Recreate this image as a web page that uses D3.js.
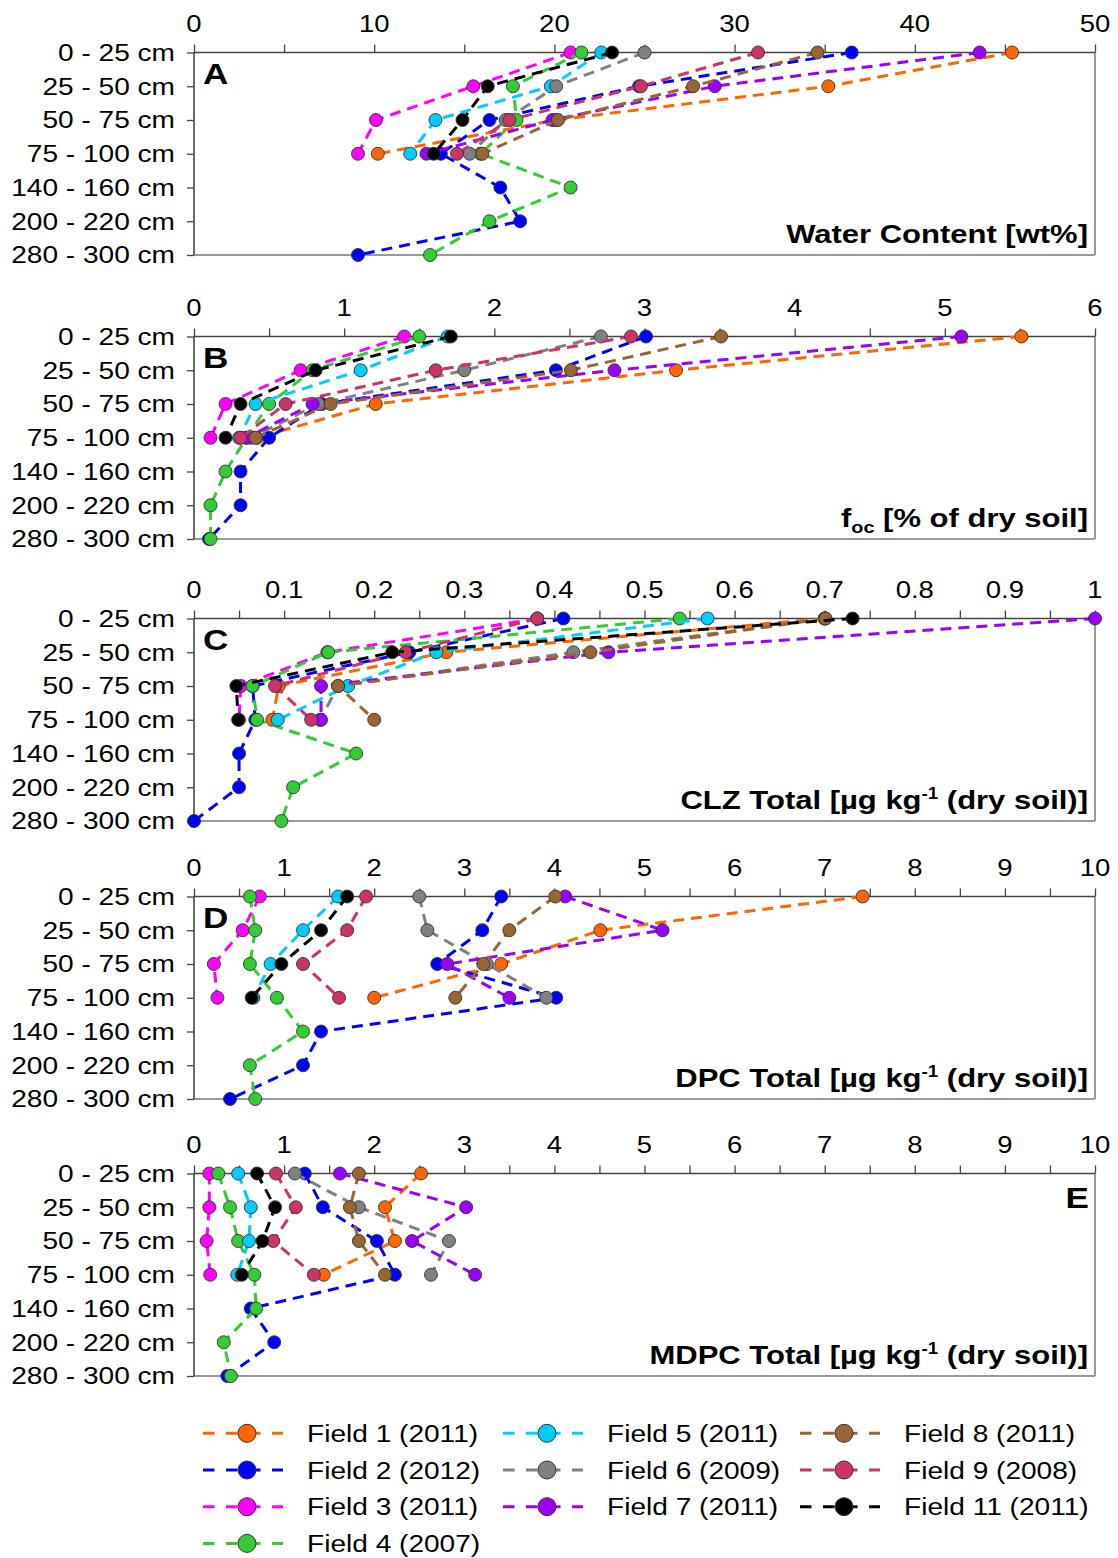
<!DOCTYPE html>
<html>
<head>
<meta charset="utf-8">
<script src="https://cdn.jsdelivr.net/npm/d3@7"></script>
<style>
  body { margin: 0; background: #fff; }
  text { font-family: "Liberation Sans", Arial, sans-serif; fill: #000; }
</style>
</head>
<body>
<svg id="chart" width="1118" height="1558"></svg>
<script>
// Sampling depths (rows of every panel)
const depths = ["0 - 25 cm", "25 - 50 cm", "50 - 75 cm", "75 - 100 cm",
                "140 - 160 cm", "200 - 220 cm", "280 - 300 cm"];

// Fields, in drawing order
const fields = ["Field 1 (2011)", "Field 2 (2012)", "Field 3 (2011)", "Field 4 (2007)",
                "Field 5 (2011)", "Field 6 (2009)", "Field 7 (2011)", "Field 8 (2011)",
                "Field 9 (2008)", "Field 11 (2011)"];
const fieldColors = ["#ff6600", "#0000ff", "#ff00ff", "#33cc33", "#00ccff",
                     "#808080", "#9900ff", "#996633", "#cc3366", "#000000"];

// A: water content [wt%], one row per field, values by depth
const waterContent = [
  [45.4, 35.2, 20.1, 10.2],
  [36.5, 24.7, 16.4, 13.7, 17.0, 18.1, 9.1],
  [20.9, 15.5, 10.1, 9.1],
  [21.5, 17.7, 17.9, 15.9, 20.9, 16.4, 13.1],
  [22.6, 19.8, 13.4, 12.0],
  [25.0, 20.1, 17.3, 15.3],
  [43.6, 28.9, 19.9, 12.9],
  [34.6, 27.7, 20.2, 16.0],
  [31.3, 24.8, 17.5, 14.6],
  [23.2, 16.3, 14.9, 13.3]
];

// B: organic carbon fraction [% of dry soil]
const organicCarbon = [
  [5.51, 3.21, 1.21, 0.42],
  [3.01, 2.41, 0.85, 0.50, 0.31, 0.31, 0.10],
  [1.40, 0.71, 0.21, 0.11],
  [1.50, 0.79, 0.50, 0.35, 0.21, 0.11, 0.11],
  [1.69, 1.11, 0.41, 0.30],
  [2.71, 1.80, 0.83, 0.38],
  [5.11, 2.80, 0.79, 0.35],
  [3.51, 2.51, 0.91, 0.41],
  [2.91, 1.61, 0.61, 0.31],
  [1.71, 0.81, 0.31, 0.21]
];

// C: chloridazon total [µg/kg dry soil]
const clzTotal = [
  [0.700, 0.280, 0.094, 0.087],
  [0.410, 0.239, 0.065, 0.068, 0.050, 0.050, 0.000],
  [0.381, 0.148, 0.052, 0.050],
  [0.539, 0.149, 0.065, 0.070, 0.180, 0.110, 0.097],
  [0.570, 0.269, 0.171, 0.093],
  [0.700, 0.421, 0.160, 0.140],
  [1.000, 0.460, 0.141, 0.141],
  [0.701, 0.440, 0.160, 0.200],
  [0.381, 0.235, 0.090, 0.130],
  [0.731, 0.220, 0.047, 0.049]
];

// D: desphenyl-chloridazon total [µg/kg dry soil]
const dpcTotal = [
  [7.42, 4.51, 3.41, 2.00],
  [3.41, 3.20, 2.70, 4.02, 1.41, 1.21, 0.40],
  [0.73, 0.54, 0.22, 0.26],
  [0.62, 0.68, 0.62, 0.92, 1.21, 0.62, 0.68],
  [1.60, 1.21, 0.85, 0.66],
  [2.50, 2.59, 3.25, 3.91],
  [4.12, 5.20, 2.81, 3.50],
  [4.01, 3.50, 3.21, 2.90],
  [1.91, 1.70, 1.21, 1.61],
  [1.70, 1.41, 0.97, 0.64]
];

// E: methyl-desphenyl-chloridazon total [µg/kg dry soil]
const mdpcTotal = [
  [2.52, 2.12, 2.23, 1.44],
  [1.23, 1.43, 2.03, 2.23, 0.63, 0.89, 0.37],
  [0.17, 0.17, 0.14, 0.18],
  [0.27, 0.40, 0.49, 0.67, 0.69, 0.33, 0.41],
  [0.49, 0.63, 0.61, 0.48],
  [1.12, 1.83, 2.83, 2.63],
  [1.62, 3.02, 2.42, 3.12],
  [1.83, 1.73, 1.83, 2.12],
  [0.91, 1.13, 0.88, 1.33],
  [0.70, 0.90, 0.76, 0.53]
];

// Axis tick labels for each panel
const waterTicks = [0, 10, 20, 30, 40, 50];
const carbonTicks = [0, 1, 2, 3, 4, 5, 6];
const clzTicks = [0, 0.1, 0.2, 0.3, 0.4, 0.5, 0.6, 0.7, 0.8, 0.9, 1];
const dpcTicks = [0, 1, 2, 3, 4, 5, 6, 7, 8, 9, 10];
const mdpcTicks = [0, 1, 2, 3, 4, 5, 6, 7, 8, 9, 10];

// ---- layout ----
const svg = d3.select("#chart");
svg.append("rect").attr("width", 1118).attr("height", 1558).attr("fill", "#fff");

const X0 = 194, X1 = 1095, PANEL_H = 202.5;
const TEXT_SX = 1.17;   // glyphs are drawn slightly wide

function label(parent, x, y, anchor, size, weight) {
  const g = parent.append("g").attr("transform", `translate(${x},${y}) scale(${TEXT_SX},1)`);
  return g.append("text")
    .attr("text-anchor", anchor)
    .style("font-size", size + "px")
    .style("font-weight", weight || "normal");
}

const panels = [
  { top: 52.5,  data: waterContent,  max: 50, minor: 5,    ticks: waterTicks,  letter: "A", letterRight: false,
    title: [{ t: "Water Content [wt%]" }] },
  { top: 336.5, data: organicCarbon, max: 6,  minor: 0.5,  ticks: carbonTicks, letter: "B", letterRight: false,
    title: [{ t: "f" }, { t: "oc", sub: true }, { t: " [% of dry soil]" }] },
  { top: 618.5, data: clzTotal,      max: 1,  minor: 0.05, ticks: clzTicks,    letter: "C", letterRight: false,
    title: [{ t: "CLZ Total [µg kg" }, { t: "-1", sup: true }, { t: " (dry soil)]" }] },
  { top: 896.5, data: dpcTotal,      max: 10, minor: 0.5,  ticks: dpcTicks,    letter: "D", letterRight: false,
    title: [{ t: "DPC Total [µg kg" }, { t: "-1", sup: true }, { t: " (dry soil)]" }] },
  { top: 1173.5, data: mdpcTotal,    max: 10, minor: 0.5,  ticks: mdpcTicks,   letter: "E", letterRight: true,
    title: [{ t: "MDPC Total [µg kg" }, { t: "-1", sup: true }, { t: " (dry soil)]" }] }
];

panels.forEach(p => {
  const g = svg.append("g");
  const top = p.top, bottom = p.top + PANEL_H;
  const x = d3.scaleLinear().domain([0, p.max]).range([X0, X1]);
  const y = d3.scalePoint().domain(depths).range([top, bottom]).padding(0);

  // frame: light right/bottom border
  g.append("line").attr("x1", X1).attr("x2", X1).attr("y1", top).attr("y2", bottom)
    .attr("stroke", "#999").attr("stroke-width", 2);
  g.append("line").attr("x1", X0).attr("x2", X1).attr("y1", bottom).attr("y2", bottom)
    .attr("stroke", "#999").attr("stroke-width", 2);

  // top axis: minor ticks every step, labels on the listed values
  const nMinor = Math.round(p.max / p.minor);
  const minorVals = d3.range(nMinor + 1).map(i => +(i * p.minor).toFixed(4));
  const topAxis = d3.axisTop(x).tickValues(minorVals).tickSize(8).tickFormat("");
  const ta = g.append("g").attr("transform", `translate(0,${top})`).call(topAxis);
  ta.select(".domain").attr("stroke", "#444").attr("stroke-width", 1.6).attr("d", `M${X0},0H${X1}`);
  ta.selectAll(".tick line").attr("stroke", "#444").attr("stroke-width", 1.3);

  p.ticks.forEach(v => {
    label(g, x(v), top - 20.5, "middle", 23.5).text(String(v));
  });

  // left axis with depth labels
  const leftAxis = d3.axisLeft(y).tickSize(7).tickFormat("");
  const la = g.append("g").attr("transform", `translate(${X0},0)`).call(leftAxis);
  la.select(".domain").attr("stroke", "#444").attr("stroke-width", 1.6).attr("d", `M0,${top}V${bottom}`);
  la.selectAll(".tick line").attr("stroke", "#444").attr("stroke-width", 1.3);
  depths.forEach(d => {
    label(g, 175, y(d) + 8.4, "end", 24).text(d);
  });

  // panel letter
  if (p.letterRight) {
    label(g, 1089, top + 34.5, "end", 30, "bold").text(p.letter);
  } else {
    label(g, 203, top + 31, "start", 30, "bold").text(p.letter);
  }

  // panel title with sub/superscripts
  const tt = label(g, 1088, bottom - 12.5, "end", 26.5, "bold");
  p.title.forEach(part => {
    const ts = tt.append("tspan").text(part.t);
    if (part.sub) ts.style("font-size", "17px").attr("dy", 6);
    else if (part.sup) ts.style("font-size", "16px").attr("dy", -10);
  });
  // restore the baseline after a shifted part
  tt.selectAll("tspan").each(function (d, i) {
    const prev = p.title[i - 1];
    if (i > 0 && prev && (prev.sub || prev.sup) && !(p.title[i].sub || p.title[i].sup)) {
      d3.select(this).attr("dy", prev.sub ? -6 : 10);
    }
  });

  // profiles
  const line = d3.line().x(d => x(d.v)).y(d => y(d.depth));
  p.data.forEach((vals, fi) => {
    const pts = vals.map((v, i) => ({ v, depth: depths[i] }));
    const sg = g.append("g");
    sg.append("path").datum(pts)
      .attr("d", line)
      .attr("fill", "none")
      .attr("stroke", fieldColors[fi])
      .attr("stroke-width", 3)
      .attr("stroke-dasharray", "11,7");
    sg.selectAll("circle").data(pts).join("circle")
      .attr("cx", d => x(d.v))
      .attr("cy", d => y(d.depth))
      .attr("r", 6.5)
      .attr("fill", fieldColors[fi])
      .attr("stroke", "#333")
      .attr("stroke-width", 0.9);
  });
});

// ---- legend ----
const legendCols = [[0, 1, 2, 3], [4, 5, 6], [7, 8, 9]];
const legendX = [203, 503, 800];
const lg = svg.append("g");
legendCols.forEach((col, ci) => {
  col.forEach((fi, ri) => {
    const x0 = legendX[ci], yc = 1433.3 + ri * 36.7;
    lg.append("line")
      .attr("x1", x0).attr("x2", x0 + 80).attr("y1", yc).attr("y2", yc)
      .attr("stroke", fieldColors[fi]).attr("stroke-width", 3)
      .attr("stroke-dasharray", "11.5,11.5");
    lg.append("circle")
      .attr("cx", x0 + 44).attr("cy", yc).attr("r", 9)
      .attr("fill", fieldColors[fi]).attr("stroke", "#333").attr("stroke-width", 1);
    label(lg, x0 + 104, yc + 8.6, "start", 24).text(fields[fi]);
  });
});
</script>
</body>
</html>
